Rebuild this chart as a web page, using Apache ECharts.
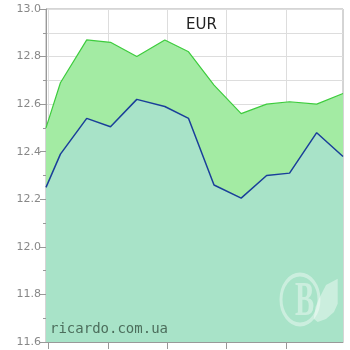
<!DOCTYPE html>
<html>
<head>
<meta charset="utf-8">
<script src="https://cdn.jsdelivr.net/npm/echarts@6/dist/echarts.min.js"></script>
<style>html,body{margin:0;padding:0;background:#fff}#c{width:350px;height:350px}</style>
</head>
<body>
<div id="c"></div>
<script>
var titleText = 'EUR';
var watermarkText = 'ricardo.com.ua';
// x positions (in days along the axis)
var xPositions = [0, 1.7, 4.8, 7.6, 10.7, 14.0, 16.8, 19.8, 23.0, 26.0, 28.7, 31.9, 35];
var upperValues = [12.50, 12.69, 12.87, 12.86, 12.80, 12.87, 12.82, 12.68, 12.56, 12.60, 12.61, 12.60, 12.645];
var lowerValues = [12.25, 12.39, 12.54, 12.505, 12.62, 12.59, 12.54, 12.26, 12.205, 12.30, 12.31, 12.48, 12.38];
var xGridPositions = [0.3, 7.3, 14.3, 21.3, 28.3];
var yMin = 11.6, yMax = 13.0, yStep = 0.2;

function pairs(xs, ys) { return xs.map(function (x, i) { return [x, ys[i]]; }); }

var chart = echarts.init(document.getElementById('c'), null, { renderer: 'canvas' });
chart.setOption({
  animation: false,
  backgroundColor: '#ffffff',
  title: {
    text: titleText, left: 181, top: 13,
    textStyle: { fontFamily: 'DejaVu Sans', fontSize: 15, fontWeight: 'normal', color: '#222' }
  },
  grid: { left: 46, top: 9, right: 7, bottom: 8, show: true, borderColor: '#aaaaaa', borderWidth: 1, backgroundColor: 'transparent' },
  xAxis: {
    type: 'value', min: 0, max: 35,
    axisLine: { show: true, lineStyle: { color: '#999' } },
    axisLabel: { show: false },
    axisTick: { show: true, length: 7, customValues: xGridPositions, lineStyle: { color: '#999' } },
    splitLine: { show: true, lineStyle: { color: '#dddddd' } }
  },
  yAxis: {
    type: 'value', min: yMin, max: yMax, interval: yStep,
    axisLine: { show: true, lineStyle: { color: '#999' } },
    axisTick: { show: true, length: 6, lineStyle: { color: '#999' } },
    minorTick: { show: true, splitNumber: 2, length: 3, lineStyle: { color: '#999' } },
    splitLine: { show: true, lineStyle: { color: '#dddddd' } },
    minorSplitLine: { show: true, lineStyle: { color: '#dddddd' } },
    axisLabel: {
      margin: 5, color: '#888', fontFamily: 'DejaVu Sans', fontSize: 11,
      formatter: function (v) { return v.toFixed(1); }
    }
  },
  series: [
    {
      type: 'line', data: pairs(xPositions, upperValues), symbol: 'none',
      lineStyle: { color: '#3dcc3d', width: 1.2 },
      areaStyle: { color: '#a3eba3', opacity: 1 }, z: 2
    },
    {
      type: 'line', data: pairs(xPositions, lowerValues), symbol: 'none',
      lineStyle: { color: '#1a3f9a', width: 1.5 },
      areaStyle: { color: '#a8e3c8', opacity: 1 }, z: 3
    }
  ],
  graphic: [
    {
      type: 'text', left: 50, top: 322, z: 10,
      style: { text: watermarkText, font: '14px "DejaVu Sans Mono"', fill: '#4c6e5c' }
    },
    {
      type: 'circle', z: 10, x: 300, y: 299.5, scaleY: 25 / 19,
      shape: { cx: 0, cy: 0, r: 19 },
      style: { fill: 'none', stroke: 'rgba(255,255,255,0.4)', lineWidth: 3, strokeNoScale: true }
    },
    {
      type: 'text', z: 10, x: 304.5, y: 303, scaleX: 0.6,
      style: { text: 'B', font: 'bold 48px "Liberation Serif"', fill: 'rgba(255,255,255,0.4)', align: 'center', verticalAlign: 'middle' }
    },
    {
      type: 'polygon', z: 10,
      shape: { points: [[313.7, 318.7], [315.5, 307], [319, 298.7], [326, 285], [337.7, 278.7], [337.7, 303.7], [334, 312], [326, 319], [317.7, 322]] },
      style: { fill: 'rgba(255,255,255,0.4)' }
    }
  ]
});
</script>
</body>
</html>
